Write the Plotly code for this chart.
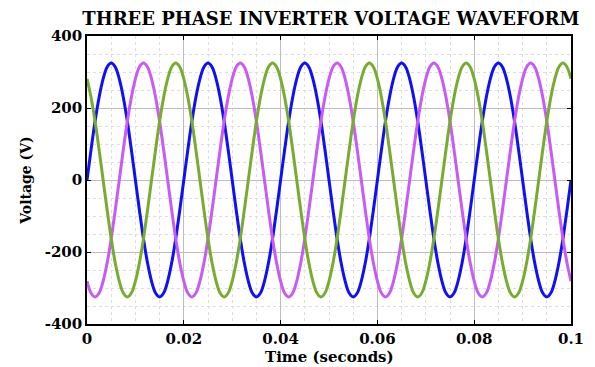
import plotly.graph_objects as go

# Sample times (s), 15-degree steps of a 50 Hz waveform
time_s = [
    0.000000, 0.000833, 0.001667, 0.002500, 0.003333, 0.004167, 0.005000, 0.005833, 0.006667, 0.007500, 0.008333, 0.009167,
    0.010000, 0.010833, 0.011667, 0.012500, 0.013333, 0.014167, 0.015000, 0.015833, 0.016667, 0.017500, 0.018333, 0.019167,
    0.020000, 0.020833, 0.021667, 0.022500, 0.023333, 0.024167, 0.025000, 0.025833, 0.026667, 0.027500, 0.028333, 0.029167,
    0.030000, 0.030833, 0.031667, 0.032500, 0.033333, 0.034167, 0.035000, 0.035833, 0.036667, 0.037500, 0.038333, 0.039167,
    0.040000, 0.040833, 0.041667, 0.042500, 0.043333, 0.044167, 0.045000, 0.045833, 0.046667, 0.047500, 0.048333, 0.049167,
    0.050000, 0.050833, 0.051667, 0.052500, 0.053333, 0.054167, 0.055000, 0.055833, 0.056667, 0.057500, 0.058333, 0.059167,
    0.060000, 0.060833, 0.061667, 0.062500, 0.063333, 0.064167, 0.065000, 0.065833, 0.066667, 0.067500, 0.068333, 0.069167,
    0.070000, 0.070833, 0.071667, 0.072500, 0.073333, 0.074167, 0.075000, 0.075833, 0.076667, 0.077500, 0.078333, 0.079167,
    0.080000, 0.080833, 0.081667, 0.082500, 0.083333, 0.084167, 0.085000, 0.085833, 0.086667, 0.087500, 0.088333, 0.089167,
    0.090000, 0.090833, 0.091667, 0.092500, 0.093333, 0.094167, 0.095000, 0.095833, 0.096667, 0.097500, 0.098333, 0.099167,
    0.100000,
]

# Phase A (blue)
phase_a = [
    0, 84, 163, 230, 281, 314, 325, 314, 281, 230, 163, 84, 0, -84, -163, -230, -281, -314, -325, -314, -281, -230, -163, -84,
    0, 84, 163, 230, 281, 314, 325, 314, 281, 230, 163, 84, 0, -84, -163, -230, -281, -314, -325, -314, -281, -230, -163, -84,
    0, 84, 163, 230, 281, 314, 325, 314, 281, 230, 163, 84, 0, -84, -163, -230, -281, -314, -325, -314, -281, -230, -163, -84,
    0, 84, 163, 230, 281, 314, 325, 314, 281, 230, 163, 84, 0, -84, -163, -230, -281, -314, -325, -314, -281, -230, -163, -84,
    0, 84, 163, 230, 281, 314, 325, 314, 281, 230, 163, 84, 0, -84, -163, -230, -281, -314, -325, -314, -281, -230, -163, -84,
    0,
]

# Phase B (magenta)
phase_b = [
    -281, -314, -325, -314, -281, -230, -163, -84, 0, 84, 163, 230, 281, 314, 325, 314, 281, 230, 163, 84, 0, -84, -163, -230,
    -281, -314, -325, -314, -281, -230, -163, -84, 0, 84, 163, 230, 281, 314, 325, 314, 281, 230, 163, 84, 0, -84, -163, -230,
    -281, -314, -325, -314, -281, -230, -163, -84, 0, 84, 163, 230, 281, 314, 325, 314, 281, 230, 163, 84, 0, -84, -163, -230,
    -281, -314, -325, -314, -281, -230, -163, -84, 0, 84, 163, 230, 281, 314, 325, 314, 281, 230, 163, 84, 0, -84, -163, -230,
    -281, -314, -325, -314, -281, -230, -163, -84, 0, 84, 163, 230, 281, 314, 325, 314, 281, 230, 163, 84, 0, -84, -163, -230,
    -281,
]

# Phase C (green)
phase_c = [
    281, 230, 163, 84, 0, -84, -163, -230, -281, -314, -325, -314, -281, -230, -163, -84, 0, 84, 163, 230, 281, 314, 325, 314,
    281, 230, 163, 84, 0, -84, -163, -230, -281, -314, -325, -314, -281, -230, -163, -84, 0, 84, 163, 230, 281, 314, 325, 314,
    281, 230, 163, 84, 0, -84, -163, -230, -281, -314, -325, -314, -281, -230, -163, -84, 0, 84, 163, 230, 281, 314, 325, 314,
    281, 230, 163, 84, 0, -84, -163, -230, -281, -314, -325, -314, -281, -230, -163, -84, 0, 84, 163, 230, 281, 314, 325, 314,
    281, 230, 163, 84, 0, -84, -163, -230, -281, -314, -325, -314, -281, -230, -163, -84, 0, 84, 163, 230, 281, 314, 325, 314,
    281,
]

x_ticks = [0, 0.02, 0.04, 0.06, 0.08, 0.1]
x_tick_labels = ["0", "0.02", "0.04", "0.06", "0.08", "0.1"]
y_ticks = [-400, -200, 0, 200, 400]
y_tick_labels = ["-400", "-200", "0", "200", "400"]

title_text = "THREE PHASE INVERTER VOLTAGE WAVEFORM"
x_label = "Time (seconds)"
y_label = "Voltage (V)"

series = [
    ("Phase A", phase_a, "#1010F5"),
    ("Phase B", phase_b, "#C85BF5"),
    ("Phase C", phase_c, "#78AC30"),
]

FONT = "DejaVu Serif"

fig = go.Figure()
for name, vals, color in series:
    fig.add_trace(go.Scatter(
        x=time_s, y=vals, mode="lines", name=name,
        line=dict(color=color, width=3, shape="spline", smoothing=1.0),
    ))

axis_common = dict(
    showline=True, linecolor="black", linewidth=1.5, mirror="ticks",
    ticks="inside", ticklen=4, tickcolor="black",
    showgrid=True, gridcolor="#BDBDBD", gridwidth=1,
    zeroline=False, automargin=False,
    tickfont=dict(family=FONT, size=15, color="black", weight="bold"),
)

fig.update_layout(
    width=595, height=367,
    margin=dict(l=87, r=24, t=36, b=43),
    paper_bgcolor="white", plot_bgcolor="white",
    showlegend=False,
    title=dict(
        text=title_text,
        font=dict(family=FONT, size=18, color="black", weight="bold"),
        x=0.556, xanchor="center", y=0.95, yanchor="middle",
        xref="container", yref="container",
    ),
    xaxis=dict(
        range=[0, 0.1], tickvals=x_ticks, ticktext=x_tick_labels,
        ticklabelstandoff=0,
        minor=dict(dtick=0.005, showgrid=True, gridcolor="#DEDEDE", griddash="dot", gridwidth=1),
        **axis_common,
    ),
    yaxis=dict(
        range=[-400, 400], tickvals=y_ticks, ticktext=y_tick_labels,
        minor=dict(dtick=50, showgrid=True, gridcolor="#DEDEDE", griddash="dot", gridwidth=1),
        title=dict(text=y_label, font=dict(family=FONT, size=14, color="black", weight="bold"), standoff=10),
        **axis_common,
    ),
    annotations=[dict(
        text=x_label, xref="paper", yref="paper", x=0.5, y=-0.115,
        xanchor="center", yanchor="middle", showarrow=False,
        font=dict(family=FONT, size=15, color="black", weight="bold"),
    )],
)

fig.write_html("out.html")
